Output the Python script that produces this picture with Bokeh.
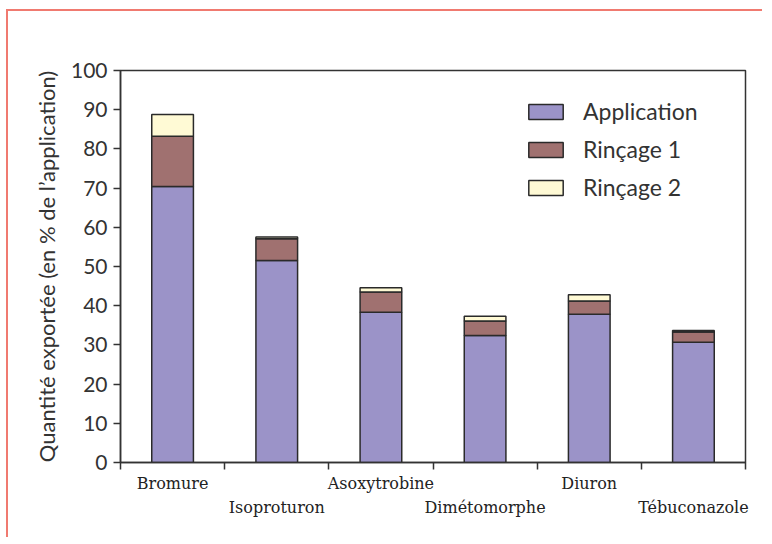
from bokeh.plotting import figure
from bokeh.models import FixedTicker, LinearAxis, Range1d, ColumnDataSource
from bokeh.embed import file_html
from bokeh.resources import INLINE

categories = ["Bromure", "Isoproturon", "Asoxytrobine", "Dimétomorphe", "Diuron", "Tébuconazole"]
application = [70.4, 51.5, 38.3, 32.4, 37.8, 30.7]
rincage1 = [12.8, 5.6, 5.2, 3.7, 3.4, 2.6]
rincage2 = [5.6, 0.4, 1.1, 1.2, 1.6, 0.4]
series_names = ["Application", "Rinçage 1", "Rinçage 2"]
series_colors = ["#9b93c8", "#a07170", "#fffad5"]
y_ticks = list(range(0, 101, 10))

xs = [i + 0.5 for i in range(len(categories))]
source = ColumnDataSource(data={
    "x": xs,
    series_names[0]: application,
    series_names[1]: rincage1,
    series_names[2]: rincage2,
})

p = figure(width=756, height=528, output_backend="svg", toolbar_location=None,
           x_range=Range1d(0, len(categories)), y_range=Range1d(0, 100),
           x_axis_type=None, min_border_left=112, min_border_top=59,
           min_border_right=19, min_border_bottom=77)
p.styles = {"border-left": "2px solid #f07a70", "border-top": "2px solid #f07a70",
            "margin-left": "6px", "margin-top": "9px"}

p.vbar_stack(series_names, x="x", width=0.4, source=source, color=series_colors,
             line_color="#2a2a2a", line_width=1.5, legend_label=series_names)

p.xgrid.visible = False
p.ygrid.visible = False
p.outline_line_color = "#333333"
p.outline_line_width = 1.5
p.background_fill_color = "white"
p.border_fill_color = "white"

# y axis
ya = p.yaxis[0]
ya.ticker = FixedTicker(ticks=y_ticks)
ya.major_tick_out = 7
ya.major_tick_in = 0
ya.minor_tick_line_color = None
ya.axis_line_color = "#333333"
ya.axis_line_width = 1.5
ya.major_tick_line_color = "#333333"
ya.major_tick_line_width = 1.5
ya.major_label_text_font = "Lato"
ya.major_label_text_font_size = "21px"
ya.major_label_text_color = "#333333"
ya.major_label_standoff = 6
ya.axis_label = "Quantité exportée (en % de l’application)"
ya.axis_label_text_font = "Lato"
ya.axis_label_text_font_size = "22px"
ya.axis_label_text_font_style = "normal"
ya.axis_label_text_color = "#333333"
ya.axis_label_standoff = 8

even_idx = list(range(0, len(categories), 2))
odd_idx = list(range(1, len(categories), 2))

xa = LinearAxis(
    ticker=FixedTicker(ticks=[xs[i] for i in even_idx], minor_ticks=list(range(len(categories) + 1))),
    major_label_overrides={xs[i]: categories[i] for i in even_idx},
)
xa.major_tick_line_color = None
xa.major_tick_out = 0
xa.major_tick_in = 0
xa.minor_tick_out = 7
xa.minor_tick_in = 0
xa.minor_tick_line_color = "#333333"
xa.minor_tick_line_width = 1.5
xa.axis_line_color = "#333333"
xa.axis_line_width = 1.5
xa.major_label_standoff = 4
xa.major_label_text_font = "DejaVu Serif"
xa.major_label_text_font_size = "16px"
xa.major_label_text_color = "#222222"

xb = LinearAxis(
    ticker=FixedTicker(ticks=[xs[i] for i in odd_idx]),
    major_label_overrides={xs[i]: categories[i] for i in odd_idx},
)
xb.major_tick_line_color = None
xb.minor_tick_line_color = None
xb.axis_line_color = None
xb.major_tick_out = 0
xb.major_tick_in = 0
xb.major_label_standoff = 2
xb.major_label_text_font = "DejaVu Serif"
xb.major_label_text_font_size = "16px"
xb.major_label_text_color = "#222222"

p.add_layout(xa, "below")
p.add_layout(xb, "below")

lg = p.legend[0]
lg.location = (404, 261)
lg.border_line_color = None
lg.background_fill_alpha = 0
lg.padding = 0
lg.margin = 0
lg.glyph_width = 43
lg.glyph_height = 19
lg.label_standoff = 16
lg.spacing = 10
lg.label_text_font = "Lato"
lg.label_text_font_size = "23px"
lg.label_text_color = "#333333"

open("out.html", "w").write(file_html(p, INLINE))
